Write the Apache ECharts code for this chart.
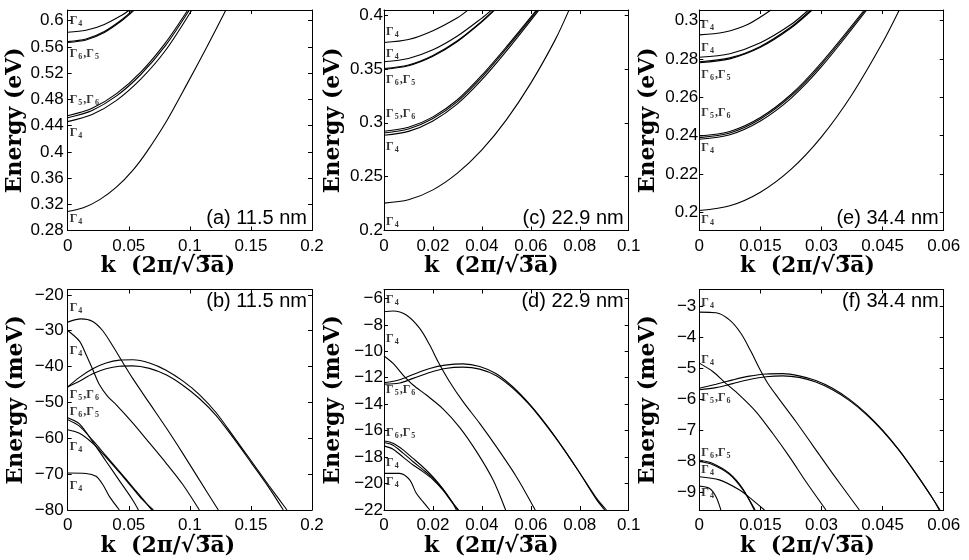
<!DOCTYPE html>
<html>
<head>
<meta charset="utf-8">
<script src="https://cdn.jsdelivr.net/npm/echarts@6/dist/echarts.min.js"></script>
<style>
html, body { margin: 0; padding: 0; background: #fff; }
#main { width: 969px; height: 560px; }
</style>
</head>
<body>
<div id="main"></div>
<script>
// ---- tick labels ----
var kTicksA = [0, 0.05, 0.1, 0.15, 0.2];
var kTicksC = [0, 0.02, 0.04, 0.06, 0.08, 0.1];
var kTicksE = [0, 0.015, 0.03, 0.045, 0.06];
var eTicksA = [0.28, 0.32, 0.36, 0.4, 0.44, 0.48, 0.52, 0.56, 0.6];
var eTicksC = [0.2, 0.25, 0.3, 0.35, 0.4];
var eTicksE = [0.2, 0.22, 0.24, 0.26, 0.28, 0.3];
var eTicksB = [-80, -70, -60, -50, -40, -30, -20];
var eTicksD = [-22, -20, -18, -16, -14, -12, -10, -8, -6];
var eTicksF = [-9, -8, -7, -6, -5, -4, -3];

// ---- (a) 11.5 nm, conduction band [k, E(eV)] ----
var a1 = [[0,0.309],[0.0128,0.3146],[0.0265,0.3275],[0.0401,0.3465],[0.0538,0.373],[0.0647,0.400],[0.0811,0.4475],[0.0974,0.5025],[0.1138,0.5595],[0.1294,0.616]];
var a2 = [[0,0.4551],[0.02,0.4665],[0.04,0.4888],[0.06,0.522],[0.08,0.5662],[0.0982,0.616]];
var a3 = [[0,0.452],[0.02,0.4632],[0.04,0.4853],[0.06,0.5183],[0.08,0.562],[0.0995,0.616]];
var a4 = [[0,0.446],[0.02,0.4568],[0.04,0.4785],[0.06,0.5112],[0.08,0.5545],[0.1015,0.616]];
var a5 = [[0,0.5681],[0.015,0.572],[0.03,0.5834],[0.045,0.6025],[0.0532,0.616]];
var a6 = [[0,0.5668],[0.015,0.5706],[0.03,0.582],[0.045,0.601],[0.0545,0.616]];
var a7 = [[0,0.5823],[0.015,0.5853],[0.03,0.5943],[0.045,0.6092],[0.0504,0.616]];
var aLabels = [[0.5997,'4'],[0.5498,'6,5'],[0.4795,'5,6'],[0.4286,'4'],[0.2978,'4']];

// ---- (c) 22.9 nm ----
var c1 = [[0,0.2254],[0.01,0.2285],[0.02,0.2377],[0.03,0.2532],[0.04,0.2748],[0.05,0.3027],[0.06,0.3368],[0.07,0.3772],[0.0756,0.4046]];
var c2 = [[0,0.2921],[0.01,0.2958],[0.02,0.3055],[0.03,0.3214],[0.04,0.3442],[0.05,0.3705],[0.0623,0.4046]];
var c3 = [[0,0.2905],[0.01,0.2942],[0.02,0.3039],[0.03,0.3197],[0.04,0.3424],[0.05,0.3689],[0.0628,0.4046]];
var c4 = [[0,0.2884],[0.01,0.292],[0.02,0.3017],[0.03,0.3175],[0.04,0.34],[0.05,0.3665],[0.0633,0.4046]];
var c5 = [[0,0.3745],[0.01,0.3773],[0.02,0.3855],[0.03,0.3975],[0.0343,0.4046]];
var c6 = [[0,0.3566],[0.01,0.3597],[0.02,0.3677],[0.03,0.3805],[0.04,0.3972],[0.0439,0.4046]];
var c7 = [[0,0.3504],[0.01,0.3537],[0.02,0.3625],[0.03,0.3762],[0.04,0.3944],[0.0448,0.4046]];
var c8 = [[0,0.3497],[0.01,0.353],[0.02,0.3618],[0.03,0.3755],[0.04,0.3937],[0.0452,0.4046]];
var cLabels = [[0.3845,'4'],[0.3643,'4'],[0.3395,'6,5'],[0.3085,'5,6'],[0.2775,'4'],[0.2078,'4']];

// ---- (e) 34.4 nm ----
var e1 = [[0,0.2009],[0.0075,0.2034],[0.015,0.2105],[0.0225,0.2224],[0.03,0.2394],[0.0375,0.2615],[0.045,0.2886],[0.0491,0.3056]];
var e2 = [[0,0.2398],[0.0075,0.2422],[0.015,0.2495],[0.0225,0.2615],[0.03,0.2782],[0.0405,0.3056]];
var e3 = [[0,0.239],[0.0075,0.2414],[0.015,0.2487],[0.0225,0.2606],[0.03,0.2772],[0.0408,0.3056]];
var e4 = [[0,0.2381],[0.0075,0.2405],[0.015,0.2477],[0.0225,0.2595],[0.03,0.276],[0.0411,0.3056]];
var e5 = [[0,0.2926],[0.006,0.294],[0.012,0.2982],[0.0176,0.3056]];
var e6 = [[0,0.2809],[0.0075,0.2828],[0.015,0.2885],[0.0225,0.298],[0.0268,0.3056]];
var e7 = [[0,0.2786],[0.0075,0.2806],[0.015,0.2866],[0.0225,0.2967],[0.0274,0.3056]];
var e8 = [[0,0.2781],[0.0075,0.2801],[0.015,0.2861],[0.0225,0.2962],[0.0277,0.3056]];
var eLabels = [[0.2978,'4'],[0.2856,'4'],[0.2717,'6,5'],[0.2517,'5,6'],[0.2334,'4'],[0.196,'4']];

// ---- (b) 11.5 nm, valence band [k, E(meV)] ----
var b1 = [[0,-27.6],[0.0109,-26.7],[0.0205,-27.4],[0.0287,-30.0],[0.0368,-34.2],[0.045,-38.8],[0.0532,-43.3],[0.0669,-50.2],[0.0805,-57.0],[0.0942,-64.2],[0.1078,-71.6],[0.1233,-80]];
var b2 = [[0,-29.95],[0.0096,-32.9],[0.015,-36.6],[0.0205,-40.8],[0.0259,-45.0],[0.0327,-48.3],[0.0396,-50.6],[0.0532,-55.7],[0.0669,-61.3],[0.0805,-66.9],[0.0942,-72.9],[0.1078,-80]];
var b3 = [[0,-45.67],[0.0096,-43.0],[0.0205,-40.6],[0.0314,-39.0],[0.0423,-38.2],[0.0532,-38.1],[0.0669,-39.0],[0.0805,-41.0],[0.0942,-44.0],[0.1078,-47.8],[0.1214,-52.8],[0.1356,-59.4],[0.15,-66.2],[0.165,-73.3],[0.1795,-80]];
var b4 = [[0,-45.67],[0.0096,-44.1],[0.0205,-42.0],[0.0314,-40.6],[0.0423,-39.9],[0.0532,-39.8],[0.0669,-40.5],[0.0805,-42.3],[0.0942,-45.2],[0.1078,-48.9],[0.1214,-53.6],[0.1356,-59.9],[0.15,-66.7],[0.165,-73.9],[0.1765,-80]];
var b5 = [[0,-54.3],[0.0096,-56.0],[0.0205,-61.0],[0.0314,-66.4],[0.0423,-71.8],[0.0532,-77.2],[0.0579,-80]];
var b6 = [[0,-54.8],[0.0096,-56.6],[0.0205,-60.6],[0.0314,-64.9],[0.0423,-69.2],[0.0532,-73.6],[0.0614,-76.9],[0.0688,-80]];
var b7 = [[0,-57.6],[0.0096,-58.6],[0.0205,-61.4],[0.0314,-65.3],[0.0423,-69.5],[0.0532,-73.9],[0.0614,-77.2],[0.0701,-80]];
var b8 = [[0,-69.7],[0.015,-69.8],[0.0232,-70.6],[0.0287,-72.9],[0.0341,-76.2],[0.0423,-80]];
var bLabels = [[-23.6,'4'],[-35.6,'4'],[-47.8,'5,6'],[-52.7,'6,5'],[-62.5,'4'],[-73.4,'4']];

// ---- (d) 22.9 nm ----
var d1 = [[0,-7.01],[0.0037,-6.96],[0.0091,-7.26],[0.0146,-8.27],[0.0187,-9.53],[0.0221,-10.79],[0.0268,-12.3],[0.0323,-13.81],[0.0391,-15.45],[0.0459,-17.21],[0.0541,-19.48],[0.0618,-22]];
var d2 = [[0,-10.36],[0.0037,-10.92],[0.0078,-11.8],[0.0119,-12.55],[0.0173,-13.31],[0.0241,-14.35],[0.0309,-15.75],[0.0377,-17.55],[0.0445,-19.7],[0.0497,-22]];
var d3 = [[0,-12.38],[0.0064,-12.15],[0.0119,-11.75],[0.0187,-11.3],[0.025,-11.05],[0.0323,-10.95],[0.0391,-11.15],[0.0459,-11.7],[0.0527,-12.7],[0.0595,-14.0],[0.0663,-15.55],[0.0731,-17.3],[0.08,-19.2],[0.0868,-21.2],[0.0902,-22]];
var d4 = [[0,-12.48],[0.0064,-12.4],[0.0119,-12.05],[0.0187,-11.6],[0.025,-11.3],[0.0323,-11.2],[0.0391,-11.35],[0.0459,-11.85],[0.0527,-12.8],[0.0595,-14.05],[0.0663,-15.6],[0.0731,-17.3],[0.08,-19.2],[0.0868,-21.1],[0.0909,-22]];
var d5 = [[0,-16.78],[0.0037,-16.95],[0.0078,-17.45],[0.0119,-18.1],[0.0159,-18.75],[0.02,-19.5],[0.0241,-20.4],[0.0275,-21.3],[0.0296,-22]];
var d6 = [[0,-16.9],[0.0037,-17.1],[0.0078,-17.7],[0.0119,-18.35],[0.0159,-18.95],[0.02,-19.6],[0.0241,-20.45],[0.0275,-21.3],[0.0302,-22]];
var d7 = [[0,-17.15],[0.0037,-17.4],[0.0078,-18.0],[0.0119,-18.6],[0.0159,-19.1],[0.02,-19.7],[0.0241,-20.5],[0.0275,-21.35],[0.0305,-22]];
var d8 = [[0,-19.23],[0.0064,-19.23],[0.0105,-19.73],[0.0132,-20.74],[0.0159,-21.37],[0.0187,-22]];
var dLabels = [[-6.13,'4'],[-9.03,'4'],[-12.93,'5,6'],[-16.2,'6,5'],[-18.47,'4'],[-19.86,'4']];

// ---- (f) 34.4 nm ----
var f1 = [[0,-3.2],[0.0041,-3.22],[0.0074,-3.45],[0.0102,-3.88],[0.0127,-4.47],[0.0147,-5.0],[0.0168,-5.49],[0.0196,-6.0],[0.0237,-6.72],[0.0278,-7.48],[0.0327,-8.39],[0.0393,-9.57]];
var f2 = [[0,-4.84],[0.0033,-5.11],[0.0065,-5.49],[0.0098,-5.86],[0.0139,-6.4],[0.018,-7.1],[0.0221,-7.85],[0.0262,-8.66],[0.0311,-9.57]];
var f3 = [[0,-5.65],[0.0041,-5.52],[0.0082,-5.38],[0.0123,-5.26],[0.0164,-5.19],[0.0205,-5.18],[0.0245,-5.25],[0.0286,-5.4],[0.0327,-5.65],[0.0368,-6.0],[0.0409,-6.45],[0.045,-7.0],[0.0491,-7.65],[0.0532,-8.4],[0.0573,-9.2],[0.0591,-9.57]];
var f4 = [[0,-5.70],[0.0041,-5.63],[0.0082,-5.5],[0.0123,-5.37],[0.0164,-5.28],[0.0205,-5.25],[0.0245,-5.3],[0.0286,-5.45],[0.0327,-5.7],[0.0368,-6.04],[0.0409,-6.48],[0.045,-7.02],[0.0491,-7.66],[0.0532,-8.4],[0.0573,-9.2],[0.0589,-9.57]];
var f5 = [[0,-7.96],[0.0033,-8.07],[0.0074,-8.39],[0.0106,-8.87],[0.0135,-9.57]];
var f6 = [[0,-8.01],[0.0033,-8.11],[0.0074,-8.42],[0.0106,-8.9],[0.0137,-9.57]];
var f7 = [[0,-8.5],[0.0049,-8.6],[0.0098,-8.92],[0.0131,-9.25],[0.016,-9.57]];
var f8 = [[0,-8.8],[0.00245,-8.87],[0.0041,-9.14],[0.0053,-9.57]];
var fLabels = [[-2.91,'4'],[-4.74,'4'],[-5.97,'5,6'],[-7.74,'6,5'],[-8.28,'4'],[-9.03,'4']];

// ---- layout (px) ----
var COLS = [{ left: 67.7, width: 244.3, kShift: 44 }, { left: 384, width: 244.7, kShift: 30 }, { left: 699.3, width: 244.4, kShift: 28 }];
var ROWS = [{ top: 10, height: 220.5 }, { top: 289.5, height: 220.5 }];

var panels = [
	{ row: 0, col: 0, xMax: 0.2, yMin: 0.28, yMax: 0.6163, xTicks: kTicksA, yTicks: eTicksA, bands: [a1, a2, a3, a4, a5, a6, a7], labels: aLabels, unit: 'eV', text: '(a) 11.5 nm', margin: 4 },
	{ row: 0, col: 1, xMax: 0.1, yMin: 0.2, yMax: 0.4047, xTicks: kTicksC, yTicks: eTicksC, bands: [c1, c2, c3, c4, c5, c6, c7, c8], labels: cLabels, unit: 'eV', text: '(c) 22.9 nm', margin: 1 },
	{ row: 0, col: 2, xMax: 0.06, yMin: 0.1905, yMax: 0.3056, xTicks: kTicksE, yTicks: eTicksE, bands: [e1, e2, e3, e4, e5, e6, e7, e8], labels: eLabels, unit: 'eV', text: '(e) 34.4 nm', margin: 1 },
	{ row: 1, col: 0, xMax: 0.2, yMin: -80, yMax: -18.5, xTicks: kTicksA, yTicks: eTicksB, bands: [b1, b2, b3, b4, b5, b6, b7, b8], labels: bLabels, unit: 'meV', text: '(b) 11.5 nm', margin: 4 },
	{ row: 1, col: 1, xMax: 0.1, yMin: -22, yMax: -5.33, xTicks: kTicksC, yTicks: eTicksD, bands: [d1, d2, d3, d4, d5, d6, d7, d8], labels: dLabels, unit: 'meV', text: '(d) 22.9 nm', margin: 1 },
	{ row: 1, col: 2, xMax: 0.06, yMin: -9.57, yMax: -2.47, xTicks: kTicksE, yTicks: eTicksF, bands: [f1, f2, f3, f4, f5, f6, f7, f8], labels: fLabels, unit: 'meV', text: '(f) 34.4 nm', margin: 3 }
];

var black = '#000';
var tickFont = { color: black, fontSize: 17, fontFamily: 'Liberation Sans' };

function fmt(v) {
	return String(v).replace('-', '\u2212');
}
function gammaText(s) {
	return s.split(',').map(function (n) { return '{g|\u0393}{s|' + n + '}'; }).join('{g|,}');
}

var grids = [], xAxes = [], yAxes = [], series = [], graphics = [];

panels.forEach(function (p, i) {
	var c = COLS[p.col], r = ROWS[p.row];
	grids.push({ left: c.left, top: r.top, width: c.width, height: r.height, outerBoundsMode: 'none' });

	var line = { onZero: false, lineStyle: { color: black, width: 1 } };
	var tick = function (vals) {
		return { inside: true, length: 4, customValues: vals, lineStyle: { color: black, width: 1 } };
	};

	xAxes.push({
		gridIndex: i, type: 'value', min: 0, max: p.xMax, position: 'bottom',
		axisLine: line, axisTick: tick(p.xTicks), splitLine: { show: false },
		axisLabel: Object.assign({ customValues: p.xTicks, margin: 7, formatter: fmt }, tickFont),
		name: 'k  (2\u03C0/\u221A3\u0305a\u0305)', nameLocation: 'middle', nameGap: 22,
		nameTextStyle: { color: black, fontSize: 22, fontWeight: 'bold', fontFamily: 'DejaVu Serif', padding: [0, c.kShift, 0, 0] }
	});
	xAxes.push({
		gridIndex: i, type: 'value', min: 0, max: p.xMax, position: 'top',
		axisLine: line, axisTick: tick(p.xTicks), axisLabel: { show: false }, splitLine: { show: false }
	});
	yAxes.push({
		gridIndex: i, type: 'value', min: p.yMin, max: p.yMax, position: 'left',
		axisLine: line, axisTick: tick(p.yTicks), splitLine: { show: false },
		axisLabel: Object.assign({ customValues: p.yTicks, margin: p.margin, formatter: fmt }, tickFont),
		name: 'Energy (' + p.unit + ')', nameLocation: 'middle', nameRotate: 90, nameGap: 40,
		nameTextStyle: { color: black, fontSize: 22, fontWeight: 'bold', fontFamily: 'DejaVu Serif' }
	});
	yAxes.push({
		gridIndex: i, type: 'value', min: p.yMin, max: p.yMax, position: 'right',
		axisLine: line, axisTick: tick(p.yTicks), axisLabel: { show: false }, splitLine: { show: false }
	});

	p.bands.forEach(function (band) {
		series.push({
			type: 'line', xAxisIndex: 2 * i, yAxisIndex: 2 * i, data: band,
			showSymbol: false, smooth: 0.3, clip: true, silent: true,
			lineStyle: { color: black, width: 1.1 }
		});
	});

	series.push({
		type: 'scatter', xAxisIndex: 2 * i, yAxisIndex: 2 * i, symbolSize: 0, silent: true,
		data: p.labels.map(function (l) { return [0, l[0], l[1]]; }),
		label: {
			show: true, position: 'right', distance: 2,
			formatter: function (prm) { return gammaText(prm.data[2]); },
			rich: {
				g: { fontFamily: 'Liberation Serif', fontWeight: 'bold', fontSize: 12, color: black, lineHeight: 14 },
				s: { fontFamily: 'Liberation Serif', fontWeight: 'bold', fontSize: 8, color: black, lineHeight: 14, verticalAlign: 'bottom', padding: [0, 1, 0, 1] }
			}
		}
	});

	graphics.push({
		type: 'text', silent: true,
		style: {
			x: c.left + c.width - 5,
			y: p.row === 0 ? r.top + r.height - 12 : r.top + 12,
			text: p.text, align: 'right', verticalAlign: 'middle',
			fill: black, font: '20px "Liberation Sans"'
		}
	});
});

var chart = echarts.init(document.getElementById('main'));
chart.setOption({
	animation: false,
	backgroundColor: '#fff',
	grid: grids,
	xAxis: xAxes,
	yAxis: yAxes,
	series: series,
	graphic: graphics
});
</script>
</body>
</html>
